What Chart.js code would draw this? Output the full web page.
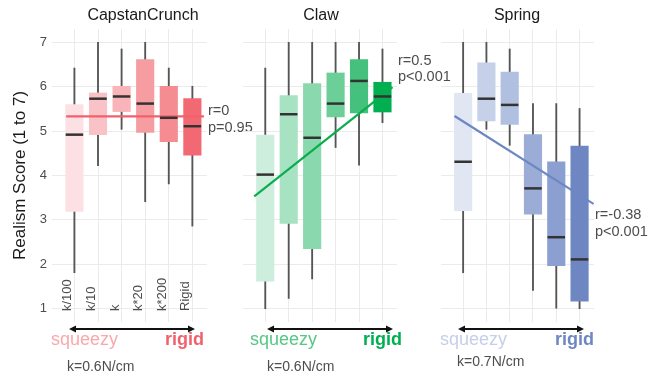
<!DOCTYPE html>
<html>
<head>
<meta charset="utf-8">
<script src="https://cdn.jsdelivr.net/npm/chart.js@4.4.0/dist/chart.umd.min.js"></script>
<style>
  body { margin: 0; background: #fff; }
  #wrap { position: relative; width: 669px; height: 377px; }
  #wrap canvas { position: absolute; left: 0; top: 0; }
</style>
</head>
<body>
<div id="wrap">
  <canvas id="c0" width="669" height="377"></canvas>
  <canvas id="c1" width="669" height="377"></canvas>
  <canvas id="c2" width="669" height="377"></canvas>
</div>
<script>
// ---- data ----
const panelNames = ['CapstanCrunch', 'Claw', 'Spring'];
const stiffnessLabels = ['k/100', 'k/10', 'k', 'k*20', 'k*200', 'Rigid'];
const yTicks = [1, 2, 3, 4, 5, 6, 7];

// box stats per stiffness level: whisker low, q1, median, q3, whisker high
const capstanLow  = [1.81, 4.22, 5.04, 3.41, 3.81, 2.86];
const capstanQ1   = [3.19, 4.92, 5.44, 4.97, 4.76, 4.46];
const capstanMed  = [4.92, 5.73, 5.78, 5.62, 5.30, 5.11];
const capstanQ3   = [5.60, 5.86, 6.01, 6.61, 6.01, 5.73];
const capstanHigh = [6.42, 7.00, 6.85, 7.00, 6.42, 6.01];

const clawLow  = [1.00, 1.23, 1.67, 4.63, 4.23, 5.19];
const clawQ1   = [1.62, 2.92, 2.35, 5.32, 5.41, 5.43];
const clawMed  = [4.02, 5.38, 4.85, 5.62, 6.13, 5.78];
const clawQ3   = [4.91, 5.80, 6.07, 6.31, 6.61, 6.10];
const clawHigh = [6.42, 7.00, 7.00, 7.00, 7.00, 6.85];

const springLow  = [1.81, 5.04, 4.68, 1.41, 1.01, 1.00];
const springQ1   = [3.21, 5.23, 5.15, 3.13, 1.97, 1.17];
const springMed  = [4.31, 5.73, 5.59, 3.71, 2.61, 2.11];
const springQ3   = [5.85, 6.54, 6.33, 4.92, 4.31, 4.66];
const springHigh = [7.00, 7.00, 6.85, 5.62, 5.62, 5.51];

// fitted regression line end points (x in stiffness-level units)
const capstanFitX = [0.65, 6.49];
const capstanFitY = [5.33, 5.33];
const clawFitX = [0.53, 6.43];
const clawFitY = [3.53, 5.99];
const springFitX = [0.63, 6.60];
const springFitY = [5.34, 3.36];

const statR = ['r=0', 'r=0.5', 'r=-0.38'];
const statP = ['p=0.95', 'p<0.001', 'p<0.001'];
const statY = [5.36, 6.49, 3.02];

const softLabel = 'squeezy';
const hardLabel = 'rigid';
const springK = ['k=0.6N/cm', 'k=0.6N/cm', 'k=0.7N/cm'];

// ---- styles ----
const boxColors = [
  ['#fde0e3', '#f9c2c6', '#f8b4b8', '#f69da2', '#f48c92', '#f26973'],
  ['#cdeedc', '#a7e2c2', '#8ad8ad', '#6dcf98', '#45c17d', '#00b050'],
  ['#e1e6f3', '#c6d0e9', '#b1bfe1', '#9badd7', '#8c9fd1', '#6e87c3']
];
const fitColors = ['#f2616b', '#0aae4e', '#6d86c4'];
const softColors = ['#f9a9ad', '#55c786', '#c5cfe9'];
const hardColors = ['#f1616b', '#00b050', '#6e87c3'];

const layout = [
  { left: 52,  right: 207, title: 143, arrow: [69, 195],  soft: 51,  hard: 204, kx: 67,  ky: 371 },
  { left: 243, right: 397, title: 321, arrow: [267, 393], soft: 250, hard: 402, kx: 267, ky: 371 },
  { left: 441, right: 594, title: 517, arrow: [458, 584], soft: 440, hard: 594, kx: 457, ky: 366 }
];

const FONT = '"Liberation Sans", Arial, sans-serif';
Chart.defaults.font.family = FONT;

const panelData = [
  { low: capstanLow, q1: capstanQ1, med: capstanMed, q3: capstanQ3, high: capstanHigh, fx: capstanFitX, fy: capstanFitY },
  { low: clawLow, q1: clawQ1, med: clawMed, q3: clawQ3, high: clawHigh, fx: clawFitX, fy: clawFitY },
  { low: springLow, q1: springQ1, med: springMed, q3: springQ3, high: springHigh, fx: springFitX, fy: springFitY }
];

const decor = {
  id: 'decor',
  afterDraw(chart) {
    const p = chart.options.plugins.decor.panel;
    const L = layout[p];
    const ctx = chart.ctx;
    const xs = chart.scales.x, ys = chart.scales.y;
    const area = chart.chartArea;
    ctx.save();

    // facet title
    ctx.font = '16px ' + FONT;
    ctx.fillStyle = '#1a1a1a';
    ctx.textAlign = 'center';
    ctx.textBaseline = 'alphabetic';
    ctx.fillText(panelNames[p], L.title, 20);

    // correlation text
    ctx.font = '14.5px ' + FONT;
    ctx.fillStyle = '#4d4d4d';
    ctx.textAlign = 'left';
    const sy = ys.getPixelForValue(statY[p]);
    ctx.fillText(statR[p], area.right + 1, sy);
    ctx.fillText(statP[p], area.right + 1, sy + 16.5);

    // stiffness labels, first panel only
    if (p === 0) {
      ctx.font = '13px ' + FONT;
      ctx.fillStyle = '#4d4d4d';
      stiffnessLabels.forEach((lab, i) => {
        ctx.save();
        ctx.translate(xs.getPixelForValue(i + 1), 311);
        ctx.rotate(-Math.PI / 2);
        ctx.textAlign = 'left';
        ctx.textBaseline = 'bottom';
        ctx.fillText(lab, 0, 0);
        ctx.restore();
      });
    }

    // double arrow
    const ay = 329, [a0, a1] = L.arrow;
    ctx.strokeStyle = '#111';
    ctx.fillStyle = '#111';
    ctx.lineWidth = 2;
    ctx.beginPath();
    ctx.moveTo(a0 + 4, ay);
    ctx.lineTo(a1 - 4, ay);
    ctx.stroke();
    ctx.beginPath();
    ctx.moveTo(a0, ay); ctx.lineTo(a0 + 7, ay - 3.5); ctx.lineTo(a0 + 7, ay + 3.5); ctx.closePath();
    ctx.moveTo(a1, ay); ctx.lineTo(a1 - 7, ay - 3.5); ctx.lineTo(a1 - 7, ay + 3.5); ctx.closePath();
    ctx.fill();

    // squeezy / rigid
    ctx.font = '18px ' + FONT;
    ctx.fillStyle = softColors[p];
    ctx.textAlign = 'left';
    ctx.textBaseline = 'alphabetic';
    ctx.fillText(softLabel, L.soft, 345);
    ctx.font = 'bold 18px ' + FONT;
    ctx.fillStyle = hardColors[p];
    ctx.textAlign = 'right';
    ctx.fillText(hardLabel, L.hard, 345);

    // spring constant
    ctx.font = '14px ' + FONT;
    ctx.fillStyle = '#4d4d4d';
    ctx.textAlign = 'left';
    ctx.fillText(springK[p], L.kx, L.ky);

    ctx.restore();
  }
};

function makeChart(p) {
  const D = panelData[p];
  const L = layout[p];
  const xs = stiffnessLabels.map((_, i) => i + 1);
  const first = p === 0;

  return new Chart(document.getElementById('c' + p), {
    type: 'bar',
    data: {
      datasets: [
        {
          type: 'scatter',
          data: xs.map((x, i) => ({ x: x, y: D.med[i] })),
          pointStyle: 'line',
          pointRadius: 8.75,
          pointBorderColor: '#333333',
          pointBorderWidth: 2.5,
          order: 0
        },
        {
          type: 'line',
          data: D.fx.map((x, i) => ({ x: x, y: D.fy[i] })),
          borderColor: fitColors[p],
          borderWidth: 2.2,
          pointRadius: 0,
          order: 1
        },
        {
          data: xs.map((x, i) => ({ x: x, y: [D.q1[i], D.q3[i]] })),
          backgroundColor: boxColors[p],
          borderWidth: 0,
          barThickness: 17.5,
          grouped: false,
          order: 2
        },
        {
          data: xs.map((x, i) => ({ x: x, y: [D.low[i], D.high[i]] })),
          backgroundColor: '#555555',
          borderWidth: 0,
          barThickness: 1.2,
          grouped: false,
          order: 3
        }
      ]
    },
    options: {
      responsive: false,
      animation: false,
      events: [],
      layout: {
        padding: { left: first ? 6 : L.left, right: 669 - L.right, top: 29, bottom: 55 }
      },
      plugins: {
        legend: { display: false },
        tooltip: { enabled: false },
        decor: { panel: p }
      },
      scales: {
        x: {
          type: 'linear',
          offset: false,
          min: 0.05,
          max: 6.62,
          afterBuildTicks: (s) => { s.ticks = xs.map(v => ({ value: v })); },
          afterFit: (s) => { s.height = 0; },
          ticks: { display: false },
          grid: { color: '#ebebeb', drawTicks: false, offset: false },
          border: { display: false }
        },
        y: {
          min: 0.7,
          max: 7.3,
          afterBuildTicks: (s) => { s.ticks = yTicks.map(v => ({ value: v })); },
          afterFit: (s) => { s.width = first ? L.left - 6 : 0; },
          ticks: { display: first, padding: 5, color: '#4d4d4d', font: { size: 13 } },
          grid: { color: '#ebebeb', drawTicks: false },
          border: { display: false },
          title: {
            display: first,
            text: 'Realism Score (1 to 7)',
            color: '#1a1a1a',
            font: { size: 17 }
          }
        }
      }
    },
    plugins: [decor]
  });
}

panelNames.forEach((_, p) => makeChart(p));
</script>
</body>
</html>
